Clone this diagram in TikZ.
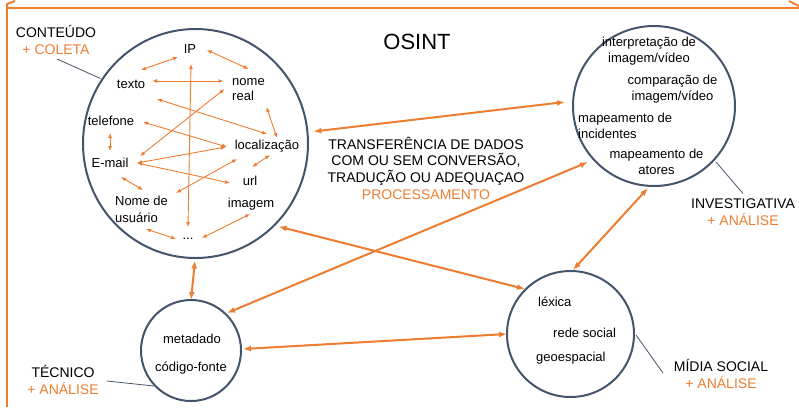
\documentclass[tikz,border=0pt]{standalone}
\usepackage{fontspec}
\setmainfont{Liberation Sans}
\usetikzlibrary{arrows.meta,shapes.geometric}
\definecolor{org}{HTML}{ED7D31}
\definecolor{ringc}{HTML}{44546A}
\begin{document}
\begin{tikzpicture}[x=1bp,y=-1bp,
 txt/.style={inner sep=0pt, font=\fontsize{13bp}{16bp}\selectfont},
 lbl/.style={inner sep=0pt, align=center, font=\fontsize{14bp}{17bp}\selectfont},
 circ/.style={draw=ringc, line width=2bp, ellipse, inner sep=0pt},
 ia/.style={draw=org, line width=0.9bp, {Latex[length=5bp,width=4bp]}-{Latex[length=5bp,width=4bp]}},
 ma/.style={draw=org, line width=2bp, {Latex[length=8bp,width=6bp]}-{Latex[length=8bp,width=6bp]}},
 lead/.style={draw=ringc, line width=0.8bp},
 frame/.style={draw=org, line width=2bp}]
\useasboundingbox (0,0) rectangle (799,407);

% frame
\coordinate (fa) at (7,407);
\coordinate (fb) at (7,8);
\coordinate (fc) at (799,8);
\coordinate (fd) at (7,4);
\coordinate (fe) at (15,1);
\coordinate (ff) at (789,1);
\coordinate (fg) at (799,6);
\draw[frame] (fa) -- (fb) -- (fc);
\draw[frame] (fb) -- (fd) -- (fe);
\draw[frame] (ff) -- (fg);

% circles
\node[circ, minimum width=225bp, minimum height=229bp] (c1) at (195.5,143.5) {};
\node[circ, minimum width=162bp, minimum height=160bp] (c2) at (654,106) {};
\node[circ, minimum width=100bp, minimum height=101bp] (c3) at (191,350.5) {};
\node[circ, minimum width=127bp, minimum height=126bp] (c4) at (570.5,334) {};

% title
\node[inner sep=0pt, font=\fontsize{22bp}{26bp}\selectfont] (title) at (417,42) {OSINT};

% labels
\node[lbl] (lc1) at (56,40) {CONTEÚDO\\\textcolor{org}{+ COLETA}};
\node[lbl] (lc2) at (743,212.5) {INVESTIGATIVA\\\textcolor{org}{+ ANÁLISE}};
\node[lbl] (lc3) at (63,379.5) {TÉCNICO\\\textcolor{org}{+ ANÁLISE}};
\node[lbl] (lc4) at (721,373.5) {MÍDIA SOCIAL\\\textcolor{org}{+ ANÁLISE}};
\node[lbl, font=\fontsize{14bp}{16.7bp}\selectfont] (proc) at (426,168)
 {TRANSFERÊNCIA DE DADOS\\COM OU SEM CONVERSÃO,\\TRADUÇÃO OU ADEQUAÇAO\\\textcolor{org}{PROCESSAMENTO}};

% leader lines
\draw[lead] ([shift={(1,19)}]lc1.center) -- ([shift={(-95,-65)}]c1.center);
\draw[lead] ([shift={(62,56)}]c2.center) -- ([shift={(0,-19)}]lc2.center);
\draw[lead] ([shift={(44,1.5)}]lc3.center) -- ([shift={(-37,35.5)}]c3.center);
\draw[lead] ([shift={(65.5,1)}]c4.center) -- ([shift={(-58,-0.5)}]lc4.center);

% circle 1 contents
\node[txt] (ip) at (190,49) {IP};
\node[txt] (texto) at (131,84) {texto};
\node[txt, align=left, font=\fontsize{13bp}{15bp}\selectfont] (nr) at (248.5,89.5) {nome\\real};
\node[txt] (tel) at (111,121) {telefone};
\node[txt] (loc) at (267,146) {localização};
\node[txt] (email) at (110,163) {E-mail};
\node[txt] (url) at (250,181) {url};
\node[txt, align=left, font=\fontsize{13bp}{17bp}\selectfont] (us) at (141.5,209.5) {Nome de\\usuário};
\node[txt] (img) at (251,204) {imagem};
\node[txt] (dots) at (188,239) {...};

% inner arrows
\draw[ia] ([shift={(-12,8)}]ip.center) -- ([shift={(10,-14)}]texto.center);
\draw[ia] ([shift={(17,1)}]ip.center) -- ([shift={(0,-20.5)}]nr.center);
\draw[ia] ([shift={(21,-3)}]texto.center) -- ([shift={(-25,-8.5)}]nr.center);
\draw[ia] ([shift={(1,15)}]ip.center) -- ([shift={(0,-12)}]dots.center);
\draw[ia] ([shift={(26,15)}]texto.center) -- ([shift={(0,-12)}]loc.center);
\draw[ia] ([shift={(18,17.5)}]nr.center) -- ([shift={(10,-8)}]loc.center);
\draw[ia] ([shift={(32,1)}]tel.center) -- ([shift={(-40,1)}]loc.center);
\draw[ia] ([shift={(-1,12)}]tel.center) -- ([shift={(0,-12)}]email.center);
\draw[ia] ([shift={(30,-7)}]email.center) -- ([shift={(-24,-0.5)}]nr.center);
\draw[ia] ([shift={(27,0)}]email.center) -- ([shift={(-41,1)}]loc.center);
\draw[ia] ([shift={(27,0)}]email.center) -- ([shift={(-20,2)}]url.center);
\draw[ia] ([shift={(11,14)}]email.center) -- ([shift={(1.5,-19.5)}]us.center);
\draw[ia] ([shift={(34.5,-16.5)}]us.center) -- ([shift={(-30,13)}]loc.center);
\draw[ia] ([shift={(3,9)}]loc.center) -- ([shift={(2,-14)}]url.center);
\draw[ia] ([shift={(4.5,19.5)}]us.center) -- ([shift={(-12,0)}]dots.center);
\draw[ia] ([shift={(14,-1)}]dots.center) -- ([shift={(-1,10)}]img.center);

% circle 2 contents
\node[txt, align=center] (t21) at (649,51) {interpretação de\\imagem/vídeo};
\node[txt, align=center] (t22) at (672.5,89) {comparação de\\imagem/vídeo};
\node[txt, align=left, anchor=west] (t23) at (578,126) {mapeamento de\\incidentes};
\node[txt, align=center] (t24) at (656.5,161.5) {mapeamento de\\atores};

% circle 3 contents
\node[txt] (t31) at (192,339) {metadado};
\node[txt] (t32) at (191,368) {código-fonte};

% circle 4 contents
\node[txt, anchor=west] (t41) at (538,302) {léxica};
\node[txt, anchor=west] (t42) at (553,333) {rede social};
\node[txt, anchor=west] (t43) at (536,358) {geoespacial};

% main arrows
\draw[ma] ([shift={(118,-12)}]c1.center) -- ([shift={(-89,-4)}]c2.center);
\draw[ma] ([shift={(83,83)}]c1.center) -- ([shift={(-45.5,-45)}]c4.center);
\draw[ma] ([shift={(36,-37.5)}]c3.center) -- ([shift={(-66,56)}]c2.center);
\draw[ma] ([shift={(-6,82)}]c2.center) -- ([shift={(2.5,-64)}]c4.center);
\draw[ma] ([shift={(52,-1.5)}]c3.center) -- ([shift={(-63.5,0)}]c4.center);
\draw[ma] ([shift={(-0.5,117)}]c1.center) -- ([shift={(0,-50.5)}]c3.center);
\end{tikzpicture}
\end{document}
